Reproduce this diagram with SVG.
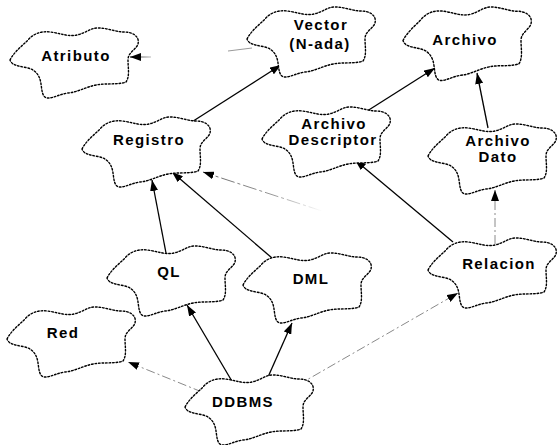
<svg xmlns="http://www.w3.org/2000/svg" xmlns:xlink="http://www.w3.org/1999/xlink" width="559" height="445" viewBox="0 0 559 445">
  <style>
    .cloud { fill: #ffffff; stroke: #000000; stroke-width: 1.4; stroke-dasharray: 1.6 1.9; stroke-linecap: round; }
    .label { font-family: "Liberation Sans", Arial, sans-serif; font-weight: bold; font-size: 15px; letter-spacing: 1.4px; fill: #000000; text-anchor: middle; }
    .solid { stroke: #000000; stroke-width: 1.3; fill: none; }
    .faint { stroke: #8a8a8a; stroke-width: 1; fill: none; stroke-dasharray: 9 3 2 3; }
  </style>
  <defs>
    <!-- Booch-style class cloud, local box about 130 x 70 -->
    <path id="cloud" d="M0,32 C4,24 12,18 18,12 C24,5 32,3 40,4 C50,5 58,9 67,7 C76,5 80,0 88,0 C98,0 106,4 114,4 C122,4 130,8 128,16 C126,22 118,24 118,32 C118,40 120,48 116,54 C108,57 96,55 86,57 C76,59 68,64 58,65 C50,66 44,70 38,70 C32,70 32,62 31,56 C30,48 26,42 18,40 C10,38 2,38 0,32 Z"/>
    <marker id="arrow" viewBox="0 0 11 8" refX="11" refY="4" markerWidth="11" markerHeight="8" markerUnits="userSpaceOnUse" orient="auto">
      <path d="M0,0 L11,4 L0,8 Z" fill="#000000"/>
    </marker>
    <linearGradient id="fadeRel" gradientUnits="userSpaceOnUse" x1="203" y1="172" x2="322" y2="211">
      <stop offset="0" stop-color="#666666"/>
      <stop offset="0.6" stop-color="#999999"/>
      <stop offset="1" stop-color="#ffffff"/>
    </linearGradient>
    <linearGradient id="fadeAtr" gradientUnits="userSpaceOnUse" x1="130" y1="57" x2="152" y2="57">
      <stop offset="0" stop-color="#333333"/>
      <stop offset="1" stop-color="#cccccc"/>
    </linearGradient>
  </defs>

  <!-- connectors -->
  <g id="connectors">
    <line class="solid" x1="187" y1="125" x2="281" y2="65" marker-end="url(#arrow)"/>
    <line class="solid" x1="364" y1="113" x2="435" y2="68" marker-end="url(#arrow)"/>
    <line class="solid" x1="488" y1="128" x2="477" y2="73" marker-end="url(#arrow)"/>
    <line class="solid" x1="166" y1="253" x2="152" y2="180" marker-end="url(#arrow)"/>
    <line class="solid" x1="272" y1="258" x2="172" y2="172" marker-end="url(#arrow)"/>
    <line class="solid" x1="453" y1="242" x2="355" y2="160" marker-end="url(#arrow)"/>
    <line class="solid" x1="233" y1="383" x2="187" y2="305" marker-end="url(#arrow)"/>
    <line class="solid" x1="268" y1="377" x2="292" y2="323" marker-end="url(#arrow)"/>
    <line class="faint" x1="495" y1="244" x2="495" y2="190" marker-end="url(#arrow)"/>
    <line class="faint" x1="298" y1="385" x2="458" y2="293" marker-end="url(#arrow)"/>
    <line class="faint" x1="202" y1="392" x2="128" y2="362" marker-end="url(#arrow)"/>
    <line x1="322" y1="211" x2="203" y2="172" stroke="url(#fadeRel)" stroke-width="1" stroke-dasharray="14 3 3 3" marker-end="url(#arrow)"/>
    <line x1="151" y1="57" x2="130" y2="57" stroke="url(#fadeAtr)" stroke-width="1.2" marker-end="url(#arrow)"/>
    <line x1="228" y1="51" x2="252" y2="48" stroke="#9a9a9a" stroke-width="1"/>
  </g>

  <!-- class clouds -->
  <g id="atributo">
    <use xlink:href="#cloud" class="cloud" transform="translate(10,28)"/>
    <text class="label" x="76" y="61">Atributo</text>
  </g>

  <g id="vector">
    <use xlink:href="#cloud" class="cloud" transform="translate(247,7)"/>
    <text class="label" x="321" y="30">Vector</text>
    <text class="label" x="320" y="49">(N-ada)</text>
  </g>

  <g id="archivo">
    <use xlink:href="#cloud" class="cloud" transform="translate(403,7) scale(1,1.05)"/>
    <text class="label" x="465" y="45">Archivo</text>
  </g>

  <g id="archivo-descriptor">
    <use xlink:href="#cloud" class="cloud" transform="translate(262,107)"/>
    <text class="label" x="334" y="129">Archivo</text>
    <text class="label" x="333" y="145">Descriptor</text>
  </g>

  <g id="archivo-dato">
    <use xlink:href="#cloud" class="cloud" transform="translate(428,124)"/>
    <text class="label" x="498" y="146">Archivo</text>
    <text class="label" x="498" y="162">Dato</text>
  </g>

  <g id="registro">
    <use xlink:href="#cloud" class="cloud" transform="translate(82,117)"/>
    <text class="label" x="149" y="145">Registro</text>
  </g>

  <g id="ql">
    <use xlink:href="#cloud" class="cloud" transform="translate(107,246)"/>
    <text class="label" x="169" y="277">QL</text>
  </g>

  <g id="dml">
    <use xlink:href="#cloud" class="cloud" transform="translate(243,253)"/>
    <text class="label" x="311" y="284">DML</text>
  </g>

  <g id="relacion">
    <use xlink:href="#cloud" class="cloud" transform="translate(428,238)"/>
    <text class="label" x="499" y="269">Relacion</text>
  </g>

  <g id="red">
    <use xlink:href="#cloud" class="cloud" transform="translate(7,307)"/>
    <text class="label" x="63" y="338">Red</text>
  </g>

  <g id="ddbms">
    <use xlink:href="#cloud" class="cloud" transform="translate(185,375)"/>
    <text class="label" x="243" y="407">DDBMS</text>
  </g>
</svg>
